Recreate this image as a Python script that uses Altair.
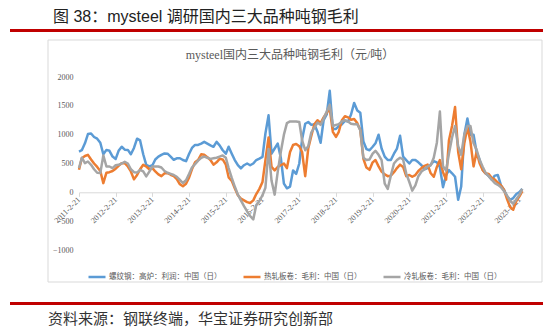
import altair as alt
import pandas as pd

TITLE = "图 38：mysteel 调研国内三大品种吨钢毛利"
INNER_TITLE = "mysteel国内三大品种吨钢毛利（元/吨）"
SOURCE = "资料来源：钢联终端，华宝证券研究创新部"
SERIES = ["螺纹钢：高炉：利润：中国（日）", "热轧板卷：毛利：中国（日）", "冷轧板卷：毛利：中国（日）"]
COLORS = ["#5B9BD5", "#ED7D31", "#A5A5A5"]
TICK_DATES = [f"{y}-02-21" for y in range(2011, 2024)]
X_DOMAIN = ["2011-02-21", "2023-04-07"]
Y_TICKS = [-1000, -500, 0, 500, 1000, 1500, 2000]

# monthly observations, 2011-02 ... 2023-03
DATES = (pd.date_range("2011-02-01", "2023-03-01", freq="MS") + pd.Timedelta(days=20)).strftime("%Y-%m-%d").tolist()

rebar = [
    707, 730, 850, 1010, 1020, 960, 930, 860, 660, 736, 720,
    620, 580, 720, 790, 740, 736, 660, 770, 930, 900, 660, 477,
    450, 470, 570, 620, 650, 675, 670, 620, 565, 590, 592, 560,
    540, 670, 770, 822, 822, 845, 875, 845, 815, 790, 875, 815,
    730, 670, 790, 670, 560, 470, 415, 470, 500, 470, 500, 560,
    585, 615, 1020, 1335, 670, 760, 845, 600, 150, 70, 100, 380,
    320, 500, 920, 1190, 1220, 1170, 1180, 1050, 860, 1250, 1350, 1760,
    1100, 1100, 1150, 1180, 1240, 1230, 1350, 1550, 1420, 1380, 880, 750,
    730, 790, 850, 1000, 760, 620, 560, 560, 670, 760, 980, 620,
    560, 500, 560, 560, 520, 470, 400, 420, 480, 540, 520, 440,
    90, 300, 385, 330, 270, -130, 100, 1000, 1280, 1000, 1000, 700,
    560, 385, 330, 280, 220, 290, 300, 120, 40, -70, -130, -100,
    -30, 5, 60,
]
hot_rolled = [
    391, 590, 630, 650, 570, 500, 440, 370, 160, 340, 350,
    370, 410, 460, 506, 506, 448, 362, 225, 300, 400, 477, 448,
    400, 420, 362, 310, 280, 330, 333, 305, 280, 230, 140, 105,
    150, 260, 400, 520, 560, 660, 650, 610, 560, 480, 520, 580,
    570, 480, 260, 200, 70, -50, -110, -140, -170, -185, -140, -30,
    60, 180, 560, 950, 440, 380, 440, 470, 500, 420, 700, 820,
    840, 800, 700, 280, 760, 980, 1180, 1250, 1200, 1300, 1380, 1450,
    1050, 960, 1050, 1250, 1320, 1300, 1260, 1270, 1200, 1080, 580, 430,
    390, 520, 560, 450, 360, 310, 280, 290, 350, 420, 480, 440,
    280, 300, 270, 300, 370, 420, 460, 480, 330, 270, 440, 560,
    350, 220, 900, 1150, 1480, 700, 400, 850, 1130, 880, 450, 700,
    500, 385, 330, 320, 250, 220, 170, 120, 40, -120, -260, -300,
    -150, -70, 20,
]
cold_rolled = [
    420, 600, 506, 535, 477, 400, 340, 333, 640, 448, 448,
    420, 470, 477, 500, 530, 500, 400, 350, 345, 390, 362, 276,
    360, 448, 448, 448, 430, 370, 340, 320, 300, 270, 215, 161,
    210, 320, 430, 490, 550, 600, 620, 600, 580, 590, 600, 620,
    640, 600, 420, 250, 100, -40, -140, -240, -330, -410, -470, -220,
    -150, -50, 80, 750, 200, -40, 350, 700, 1000, 1200, 1230, 1230,
    1230, 1220, 900, 730, 800, 1040, 1120, 1210, 1170, 1275, 1400, 1520,
    1150, 1170, 1180, 1230, 1250, 1230, 1190, 1180, 1180, 1080, 600, 560,
    570, 670, 720, 650, 560, 150, 60, 290, 500, 560, 600, 570,
    330, 180, 30, 120, 280, 360, 400, 450, 470, 600, 860, 1400,
    450, 380, 670, 950, 1150, 800, 650, 1000, 1150, 1150, 850, 740,
    560, 440, 340, 280, 220, 160, 130, 90, 20, -60, -150, -200,
    -120, -40, 60,
]

rows = []
for name, vals in zip(SERIES, [rebar, hot_rolled, cold_rolled]):
    for d, v in zip(DATES, vals):
        rows.append({"date": d, "series": name, "value": v})
df = pd.DataFrame(rows)


def ms(s):
    return int(pd.Timestamp(s, tz="UTC").value // 10**6)


W, H = 445, 173
SERIF = "Liberation Serif, Noto Sans CJK SC"
CJK = "Noto Sans CJK SC"

lines = alt.Chart(df).mark_line(strokeWidth=2.5, strokeJoin="round").encode(
    x=alt.X(
        "date:T",
        scale=alt.Scale(type="utc", domain=[ms(X_DOMAIN[0]), ms(X_DOMAIN[1])]),
        axis=alt.Axis(
            values=[ms(t) for t in TICK_DATES],
            labelExpr="utcFormat(datum.value, '%Y-%-m-%d')",
            labelAngle=-45,
            labelAlign="right",
            labelBaseline="middle",
            labelFont=SERIF,
            labelFontSize=8,
            labelColor="#595959",
            labelPadding=2,
            labelOverlap=False,
            labelFlush=False,
            tickSize=4,
            tickColor="#D9D9D9",
            domainColor="#D9D9D9",
            grid=False,
            offset=-57.7,
            title=None,
        ),
    ),
    y=alt.Y(
        "value:Q",
        scale=alt.Scale(domain=[-1000, 2000], nice=False, zero=False),
        axis=alt.Axis(
            values=Y_TICKS,
            format="d",
            grid=False,
            domain=False,
            ticks=False,
            labelPadding=6,
            labelFont=SERIF,
            labelFontSize=8,
            labelColor="#595959",
            title=None,
        ),
    ),
    color=alt.Color(
        "series:N",
        scale=alt.Scale(domain=SERIES, range=COLORS),
        legend=alt.Legend(
            orient="none",
            legendX=8,
            legendY=190,
            direction="horizontal",
            title=None,
            symbolType="stroke",
            symbolSize=289,
            symbolStrokeWidth=2.5,
            labelFont=CJK,
            labelFontSize=7.5,
            labelColor="#595959",
            labelOffset=2,
            columnPadding=16,
            labelLimit=400,
        ),
    ),
)

one = pd.DataFrame({"t": [""]})

frame = alt.Chart(one).mark_rect(fillOpacity=0, stroke="#D9D9D9", strokeWidth=1).encode(
    x=alt.value(-31), x2=alt.value(463), y=alt.value(-37), y2=alt.value(205)
)
top_rule = alt.Chart(one).mark_rule(color="#C00000", strokeWidth=3).encode(
    x=alt.value(-69), x2=alt.value(470), y=alt.value(-46.5)
)
bottom_rule = alt.Chart(one).mark_rule(color="#C00000", strokeWidth=3).encode(
    x=alt.value(-69), x2=alt.value(470), y=alt.value(226.5)
)
header = alt.Chart(pd.DataFrame({"t": [TITLE]})).mark_text(
    align="left", baseline="middle", font="Liberation Sans, Noto Sans CJK SC", fontSize=16, color="#222222"
).encode(x=alt.value(-26), y=alt.value(-60.5), text="t:N")
inner = alt.Chart(pd.DataFrame({"t": [INNER_TITLE]})).mark_text(
    align="center", baseline="middle", font=SERIF, fontSize=12, color="#595959"
).encode(x=alt.value(211), y=alt.value(-22), text="t:N")
source = alt.Chart(pd.DataFrame({"t": [SOURCE]})).mark_text(
    align="left", baseline="middle", font=CJK, fontSize=15, color="#333333"
).encode(x=alt.value(-31), y=alt.value(242), text="t:N")

chart = alt.layer(frame, top_rule, bottom_rule, lines, header, inner, source).properties(
    width=W,
    height=H,
    padding={"left": 71, "top": 69, "right": 19, "bottom": 79},
    autosize=alt.AutoSizeParams(type="none"),
    background="white",
).configure_view(strokeWidth=0)

chart.save("out.html", embed_options={"renderer": "svg", "actions": False})
